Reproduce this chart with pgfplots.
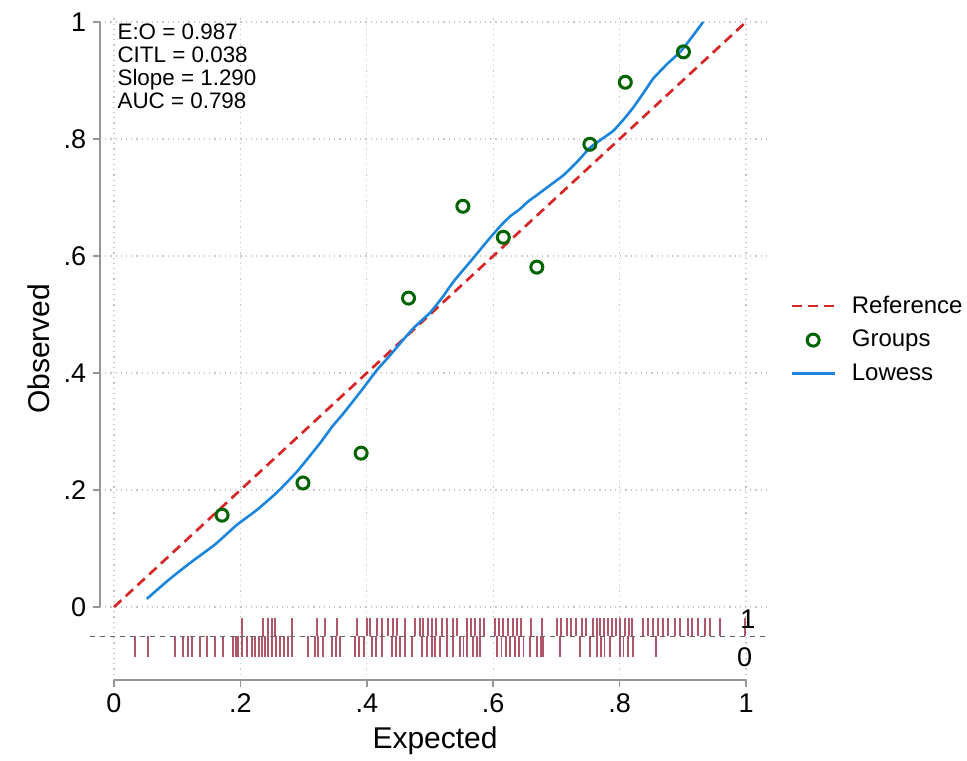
\documentclass[border=0pt]{standalone}
\usepackage{fontspec}
\setmainfont{Liberation Sans}
\usepackage{pgfplots}
\pgfplotsset{compat=1.18}
\definecolor{refred}{RGB}{214,39,40}
\definecolor{grpgreen}{RGB}{0,100,0}
\definecolor{lowblue}{RGB}{27,133,222}
\definecolor{rugred}{RGB}{150,30,55}
\definecolor{axgray}{RGB}{150,150,150}

\begin{document}
\begin{tikzpicture}
\begin{axis}[
  x=316pt, y=292.5pt,
  xmin=-0.022, xmax=1.038, ymin=-0.1248, ymax=1.007,
  axis x line*=bottom, axis y line*=left,
  axis line style={draw=none,-},
  xtick={0,0.2,0.4,0.6,0.8,1}, xticklabels={0,.2,.4,.6,.8,1},
  ytick={0,0.2,0.4,0.6,0.8,1}, yticklabels={0,.2,.4,.6,.8,1},
  tick style={axgray, line width=0.75pt},
  major tick length=3.5pt,
  tick align=outside,
  grid=major,
  grid style={gray!45, line width=0.6pt, dash pattern=on 0.6pt off 2pt},
  ticklabel style={font=\fontsize{13.5}{15}\selectfont},
  xlabel={Expected}, ylabel={Observed},
  label style={font=\fontsize{15}{17}\selectfont},
  clip=false,
  legend style={at={(1.021,0.514)}, anchor=west, draw=none, fill=none,
    font=\fontsize{12}{14}\selectfont, row sep=3pt,
    /tikz/every odd column/.append style={column sep=6pt}},
  legend cell align=left,
  legend image code/.code={\draw[mark repeat=2,mark phase=2,#1] plot coordinates {(0cm,0cm) (0.375cm,0cm) (0.75cm,0cm)};},
]
\coordinate (O) at (axis cs:0,0);

% reference diagonal
\addplot[refred, line width=1.35pt, dash pattern=on 5pt off 3pt] coordinates {(0,0) (1,1)};
\addlegendentry{Reference}

% grouped observed vs expected
\addplot[only marks, mark=o, mark size=3pt, grpgreen, line width=1.5pt] coordinates {
  (0.171,0.157) (0.299,0.212) (0.391,0.263) (0.466,0.528) (0.552,0.685)
  (0.616,0.632) (0.669,0.581) (0.753,0.791) (0.809,0.897) (0.901,0.949)
};
\addlegendentry{Groups}

% lowess smoother
\addplot[lowblue, line width=1.3pt, smooth, tension=0.3] coordinates {
  (0.052,0.014) (0.085,0.045) (0.120,0.075) (0.160,0.107) (0.194,0.140)
  (0.225,0.165) (0.257,0.195) (0.290,0.232) (0.326,0.280) (0.345,0.308)
  (0.363,0.331) (0.390,0.368) (0.416,0.405) (0.435,0.428) (0.453,0.451)
  (0.475,0.478) (0.500,0.503) (0.520,0.530) (0.537,0.556) (0.565,0.592)
  (0.595,0.631) (0.612,0.652) (0.627,0.668) (0.642,0.680) (0.655,0.693)
  (0.669,0.704) (0.690,0.721) (0.711,0.738) (0.732,0.760) (0.753,0.785)
  (0.772,0.800) (0.790,0.814) (0.806,0.833) (0.821,0.853) (0.838,0.879)
  (0.853,0.903) (0.875,0.928) (0.896,0.949) (0.915,0.975) (0.932,1.000)
};
\addlegendentry{Lowess}

% rug: outcome = 1 (upwards)
\addplot[forget plot, rugred, opacity=0.75, line width=0.9pt, quiver={u=0, v=0.031}, -] coordinates {
  (0.203,-0.05) (0.236,-0.05) (0.244,-0.05) (0.250,-0.05) (0.255,-0.05)
  (0.282,-0.05) (0.321,-0.05) (0.334,-0.05) (0.353,-0.05) (0.384,-0.05)
  (0.400,-0.05) (0.405,-0.05) (0.416,-0.05) (0.424,-0.05) (0.434,-0.05)
  (0.441,-0.05) (0.448,-0.05) (0.460,-0.05) (0.476,-0.05) (0.484,-0.05)
  (0.489,-0.05) (0.497,-0.05) (0.503,-0.05) (0.509,-0.05) (0.519,-0.05)
  (0.527,-0.05) (0.536,-0.05) (0.543,-0.05) (0.559,-0.05) (0.565,-0.05)
  (0.571,-0.05) (0.579,-0.05) (0.585,-0.05) (0.603,-0.05) (0.609,-0.05)
  (0.616,-0.05) (0.623,-0.05) (0.631,-0.05) (0.638,-0.05) (0.644,-0.05)
  (0.660,-0.05) (0.677,-0.05) (0.701,-0.05) (0.707,-0.05) (0.717,-0.05)
  (0.723,-0.05) (0.731,-0.05) (0.741,-0.05) (0.747,-0.05) (0.758,-0.05)
  (0.764,-0.05) (0.769,-0.05) (0.775,-0.05) (0.782,-0.05) (0.788,-0.05)
  (0.794,-0.05) (0.801,-0.05) (0.809,-0.05) (0.815,-0.05) (0.820,-0.05)
  (0.837,-0.05) (0.845,-0.05) (0.853,-0.05) (0.861,-0.05) (0.869,-0.05)
  (0.877,-0.05) (0.888,-0.05) (0.896,-0.05) (0.908,-0.05) (0.915,-0.05)
  (0.924,-0.05) (0.935,-0.05) (0.943,-0.05) (0.959,-0.05) (0.998,-0.05)
};
% rug: outcome = 0 (downwards)
\addplot[forget plot, rugred, opacity=0.75, line width=0.9pt, quiver={u=0, v=-0.0355}, -] coordinates {
  (0.033,-0.05) (0.054,-0.05) (0.097,-0.05) (0.109,-0.05) (0.117,-0.05)
  (0.123,-0.05) (0.136,-0.05) (0.147,-0.05) (0.160,-0.05) (0.172,-0.05)
  (0.188,-0.05) (0.193,-0.05) (0.196,-0.05) (0.203,-0.05) (0.210,-0.05)
  (0.218,-0.05) (0.223,-0.05) (0.229,-0.05) (0.234,-0.05) (0.239,-0.05)
  (0.244,-0.05) (0.250,-0.05) (0.256,-0.05) (0.263,-0.05) (0.269,-0.05)
  (0.275,-0.05) (0.282,-0.05) (0.307,-0.05) (0.318,-0.05) (0.323,-0.05)
  (0.331,-0.05) (0.345,-0.05) (0.351,-0.05) (0.358,-0.05) (0.381,-0.05)
  (0.388,-0.05) (0.396,-0.05) (0.408,-0.05) (0.415,-0.05) (0.424,-0.05)
  (0.440,-0.05) (0.446,-0.05) (0.453,-0.05) (0.460,-0.05) (0.472,-0.05)
  (0.487,-0.05) (0.495,-0.05) (0.503,-0.05) (0.508,-0.05) (0.516,-0.05)
  (0.527,-0.05) (0.536,-0.05) (0.547,-0.05) (0.553,-0.05) (0.558,-0.05)
  (0.568,-0.05) (0.574,-0.05) (0.579,-0.05) (0.606,-0.05) (0.613,-0.05)
  (0.620,-0.05) (0.627,-0.05) (0.634,-0.05) (0.641,-0.05) (0.648,-0.05)
  (0.658,-0.05) (0.669,-0.05) (0.675,-0.05) (0.679,-0.05) (0.706,-0.05)
  (0.737,-0.05) (0.753,-0.05) (0.764,-0.05) (0.770,-0.05) (0.776,-0.05)
  (0.785,-0.05) (0.801,-0.05) (0.806,-0.05) (0.813,-0.05) (0.821,-0.05)
  (0.858,-0.05)
};

% axis lines span only 0..1, as in the original
\draw[axgray, line width=0.75pt] (axis cs:0,-0.1248) -- (axis cs:1,-0.1248);
\draw[axgray, line width=0.75pt] (axis cs:-0.022,0) -- (axis cs:-0.022,1);
% rug baseline
\draw[black!60, line width=0.6pt, dash pattern=on 2.5pt off 2.5pt] (axis cs:-0.038,-0.05) -- (axis cs:1.03,-0.05);
\node[font=\fontsize{13.5}{15}\selectfont] at (axis cs:1.003,-0.021) {1};
\node[font=\fontsize{13.5}{15}\selectfont] at (axis cs:0.998,-0.086) {0};

\node[anchor=north west, inner sep=0pt, align=left, font=\fontsize{11.2}{11.5}\selectfont]
  at (axis cs:0.005,0.998) {E:O = 0.987\\CITL = 0.038\\Slope = 1.290\\AUC = 0.798};
\end{axis}
\pgfresetboundingbox
\path[use as bounding box] ([shift={(-57pt,-76.5pt)}]O) rectangle ([shift={(426.5pt,303.5pt)}]O);
\end{tikzpicture}
\end{document}
